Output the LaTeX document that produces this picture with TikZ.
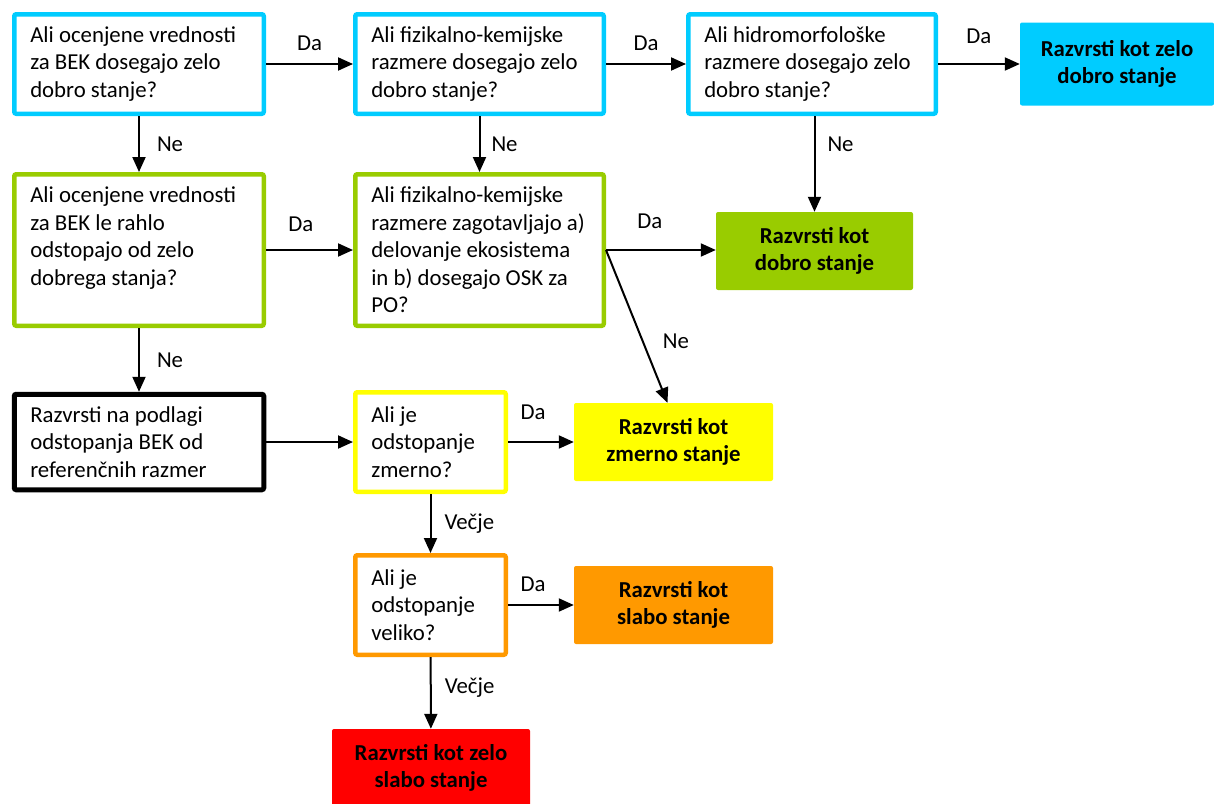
\documentclass[tikz,border=0pt]{standalone}
\usepackage{fontspec}
\setmainfont{Carlito}
\definecolor{vgblue}{RGB}{0, 204, 255}
\definecolor{vggreen}{RGB}{153, 204, 0}
\definecolor{vgyellow}{RGB}{255, 255, 0}
\definecolor{vgorange}{RGB}{255, 153, 0}
\definecolor{vgred}{RGB}{255, 0, 0}
\usetikzlibrary{arrows.meta, positioning, calc}
\newcommand{\vgfont}{\fontsize{22.8}{27.5}\selectfont}

\tikzset{
  question/.style={draw, fill=white, line width=4.5pt, rounded corners=2pt, align=flush left, inner xsep=16pt, inner ysep=0pt},
  verdict/.style={rounded corners=2pt, align=center, font=\vgfont\bfseries, inner sep=0pt},
  flow/.style={-{Triangle[length=15pt, width=13pt]}, line width=2pt},
  lbl/.style={inner sep=0pt}
}

\begin{document}
\begin{tikzpicture}[x=1pt, y=-1pt, font=\vgfont]
  \useasboundingbox (0,0) rectangle (1214,803);

  % questions
  \node[question, draw=vgblue, text width=217.5pt, minimum height=99.5pt] (bek) at (139,64)
    {Ali ocenjene vrednosti\\za BEK dosegajo zelo\\dobro stanje?};
  \node[question, draw=vgblue, text width=216.5pt, minimum height=99.5pt] (fk) at (479.5,64)
    {Ali fizikalno-kemijske\\razmere dosegajo zelo\\dobro stanje?};
  \node[question, draw=vgblue, text width=215.5pt, minimum height=99.5pt] (hm) at (812,64)
    {Ali hidromorfološke\\razmere dosegajo zelo\\dobro stanje?};
  \node[question, draw=vggreen, text width=217.5pt, minimum height=151.5pt] (bekle) at (139,250)
    {Ali ocenjene vrednosti\\za BEK le rahlo\\odstopajo od zelo\\dobrega stanja?\\\mbox{}};
  \node[question, draw=vggreen, text width=216.5pt, minimum height=151.5pt] (fkeko) at (479.5,250)
    {Ali fizikalno-kemijske\\razmere zagotavljajo a)\\delovanje ekosistema\\in b) dosegajo OSK za\\PO?};
  \node[question, draw=black, line width=5pt, text width=217.5pt, minimum height=95.5pt] (odst) at (139,442)
    {Razvrsti na podlagi\\odstopanja BEK od\\referenčnih razmer};
  \node[question, draw=vgyellow, text width=118.5pt, minimum height=99.5pt] (zmer) at (430.5,442)
    {Ali je\\odstopanje\\zmerno?};
  \node[question, draw=vgorange, text width=118.5pt, minimum height=99.5pt] (vel) at (430.5,605)
    {Ali je\\odstopanje\\veliko?};

  % verdicts
  \node[verdict, fill=vgblue, minimum width=194pt, minimum height=83pt] (zd) at (1117,64)
    {Razvrsti kot zelo\\dobro stanje};
  \node[verdict, fill=vggreen, minimum width=197pt, minimum height=78pt] (dob) at (814.5,251)
    {Razvrsti kot\\dobro stanje};
  \node[verdict, fill=vgyellow, minimum width=199pt, minimum height=78pt] (zm) at (673.5,442)
    {Razvrsti kot\\zmerno stanje};
  \node[verdict, fill=vgorange, minimum width=199pt, minimum height=78pt] (sl) at (673.5,605)
    {Razvrsti kot\\slabo stanje};
  \node[verdict, fill=vgred, minimum width=198pt, minimum height=78pt] (zs) at (431,768)
    {Razvrsti kot zelo\\slabo stanje};

  % connectors
  \draw[flow] (bek) -- node[lbl, above=12pt] {Da} (fk);
  \draw[flow] (fk) -- node[lbl, above=12pt] {Da} (hm);
  \draw[flow] (hm) -- node[lbl, above=19pt] {Da} (zd);
  \draw[flow] (bek) -- node[lbl, right=17pt] {Ne} (bekle);
  \draw[flow] (fk) -- node[lbl, right=11pt] {Ne} (fkeko);
  \draw[flow] (hm.south -| dob.north) -- node[lbl, right=12pt, pos=0.3] {Ne} (dob.north);
  \draw[flow] (bekle) -- node[lbl, above=17pt, pos=0.4] {Da} (fkeko);
  \draw[flow] (fkeko.east) -- node[lbl, above=20pt, pos=0.4] {Da} (fkeko.east -| dob.west);
  \draw[flow] (fkeko.east) -- node[lbl, right=19pt, pos=0.6] {Ne} ([xshift=-6pt]zm.north);
  \draw[flow] (bekle) -- node[lbl, right=17pt] {Ne} (odst);
  \draw[flow] (odst) -- (zmer);
  \draw[flow] (zmer) -- node[lbl, above=21pt, pos=0.38] {Da} (zm);
  \draw[flow] (zmer) -- node[lbl, right=13pt] {Večje} (vel);
  \draw[flow] (vel) -- node[lbl, above=12pt, pos=0.38] {Da} (sl);
  \draw[flow] (vel) -- node[lbl, right=13pt, pos=0.42] {Večje} (zs);
\end{tikzpicture}
\end{document}
